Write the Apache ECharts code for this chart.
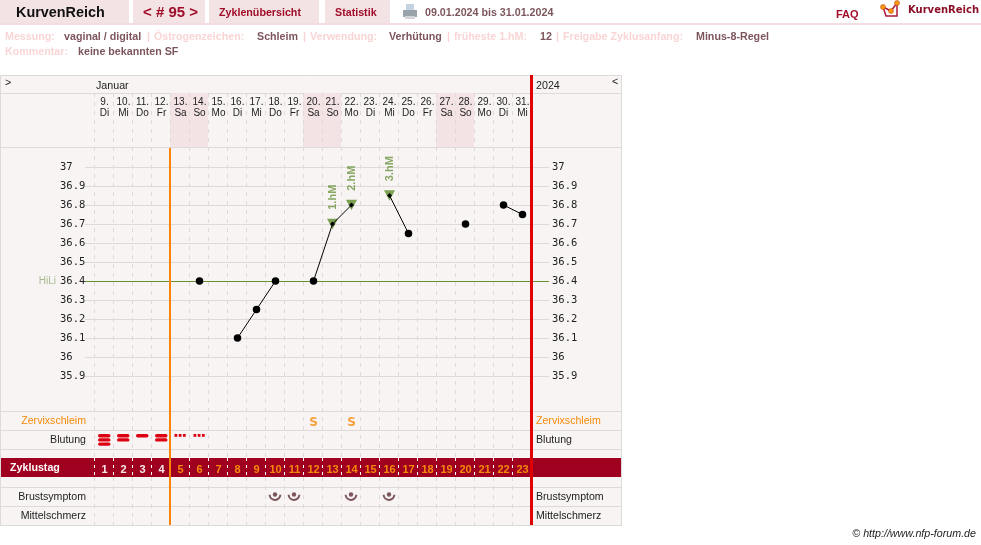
<!DOCTYPE html>
<html><head><meta charset="utf-8">
<style>html,body{margin:0;padding:0;background:#fff}#c{width:981px;height:545px}</style>
<script src="https://cdn.jsdelivr.net/npm/echarts@6/dist/echarts.min.js"></script>
</head><body><div id="c"></div>
<script>
// ---------- data ----------
const dayNumbers = [9,10,11,12,13,14,15,16,17,18,19,20,21,22,23,24,25,26,27,28,29,30,31];
const weekdays = ['Di','Mi','Do','Fr','Sa','So','Mo','Di','Mi','Do','Fr','Sa','So','Mo','Di','Mi','Do','Fr','Sa','So','Mo','Di','Mi'];
const weekendFlags = [0,0,0,0,1,1,0,0,0,0,0,1,1,0,0,0,0,0,1,1,0,0,0];
const cycleDays = [1,2,3,4,5,6,7,8,9,10,11,12,13,14,15,16,17,18,19,20,21,22,23];
const temperatures = [null,null,null,null,null,36.4,null,36.1,36.25,36.4,null,36.4,36.7,36.8,null,36.85,36.65,null,null,36.7,null,36.8,36.75];
const highMeasures = [[12,'1.hM'],[13,'2.hM'],[15,'3.hM']];
const coverLine = 36.4;
const mucusCycleDays = [12,14];
const bleeding = [3,2,1,2,0,0];
const breastCycleDays = [10,11,14,16];
const yTicksMin = 35.9, yTicksMax = 37;

// ---------- styling ----------
const SANS = '"Liberation Sans", Arial, sans-serif';
const MONO = '"DejaVu Sans Mono", monospace';
const RED = '#a00d2a', BAND = '#a00020', ROSE = '#f3e3e4', PINK = '#f9d5d5', BROWN = '#7d565c';
const ORANGE = '#f58a0a', GREEN = '#64902f', LINE = '#dedada', PANEL = '#f8f4f4';
const L = 95, LD = 94, W = 437;

function txt(x,y,text,opt){opt=opt||{};return {type:'text',x:x,y:y,z:opt.z||50,silent:true,style:{text:text,
  font:(opt.style||'')+' '+(opt.weight||'normal')+' '+(opt.size||10.7)+'px '+(opt.family||SANS),
  fill:opt.color||'#222',align:opt.align||'left',verticalAlign:'middle'}};}
function rect(x,y,w,h,fill,z){return {type:'rect',z:z==null?-5:z,silent:true,shape:{x:x,y:y,width:w,height:h},style:{fill:fill}};}
function hline(y){return {type:'line',z:-1,silent:true,shape:{x1:0,y1:y+.5,x2:621,y2:y+.5},style:{stroke:LINE,lineWidth:1}};}

const tabs = [[0,129],[133,72],[209,110],[325,65]];
const tabTexts = [[16,13,'KurvenReich','bold',14.4,'#111'],[143,13,'< # 95 >','bold',15,RED],[219,13,'Zyklenübersicht','bold',10.7,RED],[335,13,'Statistik','bold',10.7,RED],[425,13,'09.01.2024 bis 31.01.2024','bold',10.7,BROWN],[836,15,'FAQ','bold',11,RED]];
const infoTexts = [
 [5,37,'Messung:',PINK],[64,37,'vaginal / digital',BROWN],[147,37,'|',PINK],[154,37,'Östrogenzeichen:',PINK],[257,37,'Schleim',BROWN],[303,37,'|',PINK],[310,37,'Verwendung:',PINK],[389,37,'Verhütung',BROWN],[447,37,'|',PINK],[454,37,'früheste 1.hM:',PINK],[540,37,'12',BROWN],[556,37,'|',PINK],[563,37,'Freigabe Zyklusanfang:',PINK],[696,37,'Minus-8-Regel',BROWN],
 [5,52,'Kommentar:',PINK],[78,52,'keine bekannten SF',BROWN]];
const rowLabels = [['Zervixschleim',421,ORANGE],['Blutung',440,'#222'],['Brustsymptom',497,'#222'],['Mittelschmerz',516,'#222']];

const graphicEls = [];
tabs.forEach(t=>graphicEls.push(rect(t[0],0,t[1],23,ROSE)));
graphicEls.push(rect(0,23,981,2,'#f3dde0'));
tabTexts.forEach(t=>graphicEls.push(txt(t[0],t[1],t[2],{weight:t[3],size:t[4],color:t[5]})));
infoTexts.forEach(t=>graphicEls.push(txt(t[0],t[1],t[2],{weight:'bold',size:10.7,color:t[3]})));
// printer icon
graphicEls.push(rect(406,4,8,7,'#c4d3e2',2),rect(403,10,14,7,'#9aa2aa',2),rect(405,16,10,3,'#d2d6da',2));
// logo
graphicEls.push({type:'polyline',z:2,silent:true,shape:{points:[[883,7],[886,16],[897,16],[897,3]]},style:{stroke:'#a81a3a',fill:null,lineWidth:1.5}});
graphicEls.push({type:'polyline',z:2,silent:true,shape:{points:[[883,7],[891,11],[897,3]]},style:{stroke:'#a81a3a',fill:null,lineWidth:1.5}});
[[883,7],[891,11],[897,3]].forEach(p=>graphicEls.push({type:'circle',z:3,silent:true,shape:{cx:p[0],cy:p[1],r:2.5},style:{fill:'#f59a10',stroke:'#c23a10',lineWidth:.5}}));
graphicEls.push(txt(908,10,'KurvenReich',{weight:'bold',size:10,family:'"DejaVu Sans", sans-serif',color:'#8c0f28'}));
// chart panel
graphicEls.push(rect(0,75,621,451,PANEL,-6));
graphicEls.push(rect(0,458,621,19,BAND,-4));
[75,93,147,411,430,449,487,506,525].forEach(y=>graphicEls.push(hline(y)));
graphicEls.push({type:'line',z:-1,silent:true,shape:{x1:.5,y1:75,x2:.5,y2:526},style:{stroke:LINE}});
graphicEls.push({type:'line',z:-1,silent:true,shape:{x1:621.5,y1:75,x2:621.5,y2:526},style:{stroke:LINE}});
graphicEls.push(txt(5,83,'>'),txt(612,82,'<'),txt(96,86,'Januar'),txt(536,86,'2024'));
graphicEls.push(txt(10,468.5,'Zyklustag',{weight:'bold',color:'#fff'}));
rowLabels.forEach(r=>{graphicEls.push(txt(86,r[1],r[0],{color:r[2],align:'right',size:10.6}),txt(536,r[1],r[0],{color:r[2],size:10.6}));});
graphicEls.push(txt(976,534,'© http://www.nfp-forum.de',{style:'italic',size:10.7,align:'right',color:'#222'}));
// phase lines
graphicEls.push(rect(169,148,2,377,'#fb8408',20),rect(530,75,3,450,'#e00000',21));

// ---------- layout: grids and axes ----------
const grids=[], xAxes=[], yAxes=[], series=[];
function addGrid(top,height,x,y,left,width){
  grids.push({left:left==null?L:left,width:width==null?W:width,top:top,height:height,containLabel:false});
  const i=grids.length-1;
  xAxes.push(Object.assign({gridIndex:i,type:'category',data:dayNumbers.map(String),boundaryGap:true,show:false},x||{}));
  yAxes.push(Object.assign({gridIndex:i,type:'value',min:0,max:1,show:false,splitLine:{show:false}},y||{}));
  return i;
}
const dash = {show:true,interval:0,lineStyle:{color:'#dedada',type:[4,5],width:1}};
const hiddenAxisBits = {axisLine:{show:false},axisTick:{show:false}};

// weekend shading
const gWeekend = addGrid(93,54,null,null,LD);
series.push({type:'bar',xAxisIndex:gWeekend,yAxisIndex:gWeekend,data:weekendFlags,barWidth:'100%',itemStyle:{color:ROSE},silent:true,z:1});
// date labels
addGrid(93,54,Object.assign({show:true,position:'top',z:3,splitLine:{show:false},
  axisLabel:{inside:true,interval:0,margin:4,fontFamily:SANS,fontSize:10,lineHeight:11,color:'#222',verticalAlign:'top',
    formatter:(v,i)=>v+'.\n'+weekdays[i]}},hiddenAxisBits));
// dashes upper and lower part
addGrid(93,365,Object.assign({show:true,z:3,splitLine:dash,axisLabel:{show:false}},hiddenAxisBits),null,LD);
addGrid(477,48,Object.assign({show:true,z:3,splitLine:dash,axisLabel:{show:false}},hiddenAxisBits),null,LD);
// white dashes across the cycle-day band
addGrid(458,19,Object.assign({show:true,z:3,splitLine:{show:true,interval:0,lineStyle:{color:'#fff',type:[3,4],width:1}},axisLabel:{show:false}},hiddenAxisBits),null,LD);

// temperature helper grid: horizontal lines and labels
const gLines = grids.length;
grids.push({left:85,width:464,top:167,height:209});
xAxes.push({gridIndex:gLines,type:'value',min:0,max:1,show:false});
const tempLabel = {fontFamily:MONO,fontSize:10.5,color:'#222',align:'left',formatter:v=>String(+(+v).toFixed(1))};
yAxes.push({gridIndex:gLines,type:'value',min:yTicksMin,max:yTicksMax,interval:0.1,position:'left',z:1,
  axisLine:{show:false},axisTick:{show:false},splitLine:{show:true,lineStyle:{color:'#dedada'}},
  axisLabel:Object.assign({margin:25},tempLabel)});
series.push({type:'line',xAxisIndex:gLines,yAxisIndex:gLines,data:[],silent:true,z:3,
  markLine:{silent:true,symbol:'none',animation:false,lineStyle:{color:GREEN,type:'solid',width:1},
    label:{show:true,position:'start',formatter:'HiLi',distance:29,color:'#a6bb90',fontFamily:SANS,fontSize:10},
    data:[{yAxis:coverLine}]}});

// temperature curve
const gTemp = addGrid(167,209,null,{min:yTicksMin,max:yTicksMax,interval:0.1});
const hmIdx = highMeasures.map(h=>h[0]);
series.push({type:'scatter',xAxisIndex:gTemp,yAxisIndex:gTemp,symbol:'triangle',symbolRotate:180,symbolSize:[11,10.5],
  itemStyle:{color:'#5c8c28'},z:4,silent:true,
  data:highMeasures.map(h=>({value:[h[0],temperatures[h[0]]],label:{formatter:h[1]}})),
  label:{show:true,position:'top',rotate:90,align:'left',verticalAlign:'middle',distance:9,color:'#6c9440',fontFamily:SANS,fontWeight:'bold',fontSize:11}});
series.push({type:'line',xAxisIndex:gTemp,yAxisIndex:gTemp,connectNulls:false,clip:false,z:5,silent:true,
  lineStyle:{color:'#000',width:1},showAllSymbol:true,
  data:temperatures.map((t,i)=>({value:t,symbol:hmIdx.includes(i)?'diamond':'circle',symbolSize:hmIdx.includes(i)?5:7.5})),
  itemStyle:{color:'#000'}});

// rows
const gMucus = addGrid(412,18);
series.push({type:'scatter',xAxisIndex:gMucus,yAxisIndex:gMucus,symbolSize:1,itemStyle:{color:'transparent'},silent:true,z:5,
  data:mucusCycleDays.map(d=>[d-1,0.5]),
  label:{show:true,position:'inside',formatter:'S',offset:[0,2],color:ORANGE,fontFamily:'"DejaVu Sans", sans-serif',fontWeight:'bold',fontSize:12}});

const gBleed = addGrid(431,18);
series.push({type:'custom',xAxisIndex:gBleed,yAxisIndex:gBleed,silent:true,z:5,clip:false,
  data:bleeding.map((v,i)=>[i,0.5,v]),
  renderItem:(p,api)=>{
    const c=api.coord([api.value(0),api.value(1)]), lv=api.value(2), ch=[];
    if(lv>0){for(let k=0;k<lv;k++)ch.push({type:'rect',shape:{x:c[0]-6.5,y:c[1]-6+k*4.2,width:12.5,height:3.4,r:1.7},style:{fill:'#dd0011'}});}
    else{for(let k=-1;k<=1;k++)ch.push({type:'rect',shape:{x:c[0]-1.8+k*4.2,y:c[1]-6,width:2.8,height:2.8},style:{fill:'#dd0011'}});}
    return {type:'group',children:ch};
  }});

// cycle-day numbers
addGrid(458,19,Object.assign({show:true,data:cycleDays.map(String),z:3,splitLine:{show:false},
  axisLabel:{inside:true,interval:0,margin:2,fontFamily:SANS,fontSize:11,fontWeight:'bold',
    color:(v,i)=>(+v<=4?'#f6e9ea':'#f58a0a')}},hiddenAxisBits));

const gBreast = addGrid(487,19);
series.push({type:'custom',xAxisIndex:gBreast,yAxisIndex:gBreast,silent:true,z:5,clip:false,
  data:breastCycleDays.map(d=>[d-1,0.5]),
  renderItem:(p,api)=>{
    const c=api.coord([api.value(0),api.value(1)]);
    return {type:'group',children:[
      {type:'arc',shape:{cx:c[0]-0.5,cy:c[1]-2,r:5.4,startAngle:0.05,endAngle:Math.PI-0.05},style:{stroke:BROWN,fill:null,lineWidth:2}},
      {type:'circle',shape:{cx:c[0]-0.5,cy:c[1]-2,r:2.2},style:{fill:BROWN}}]};
  }});
addGrid(506,19);

// right-hand temperature labels (extra axis on the helper grid, kept last so indices stay aligned)
yAxes.push({gridIndex:gLines,type:'value',min:yTicksMin,max:yTicksMax,interval:0.1,position:'right',
  axisLine:{show:false},axisTick:{show:false},splitLine:{show:false},axisLabel:Object.assign({margin:3},tempLabel)});

const chart = echarts.init(document.getElementById('c'),null,{renderer:'canvas',width:981,height:545});
chart.setOption({animation:false,backgroundColor:'#fff',
  graphic:{elements:graphicEls},
  grid:grids,xAxis:xAxes,yAxis:yAxes,series:series});
</script></body></html>
